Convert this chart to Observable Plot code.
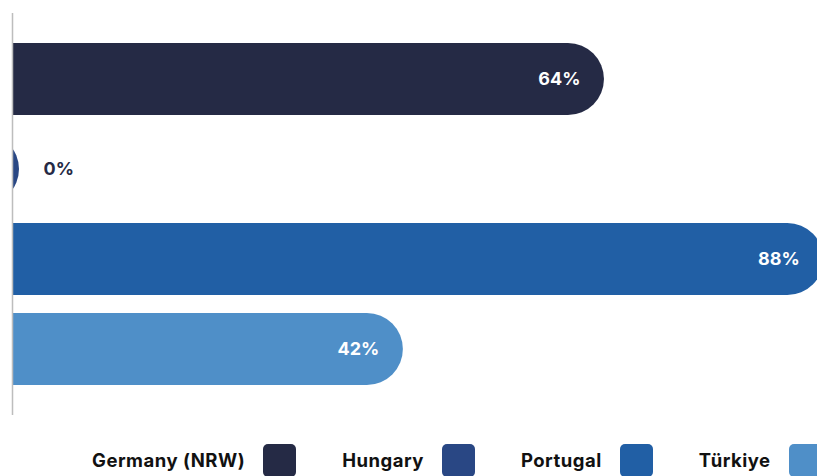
<!DOCTYPE html>
<html>
<head>
<meta charset="utf-8">
<script src="https://cdn.jsdelivr.net/npm/d3@7"></script>
<script src="https://cdn.jsdelivr.net/npm/@observablehq/plot@0.6"></script>
<style>
  html, body { margin: 0; padding: 0; background: #fff; overflow: hidden; }
  body { width: 817px; height: 476px; font-family: Inter, "Noto Sans", sans-serif; }
  #legend { display: flex; align-items: flex-start; white-space: nowrap; padding-left: 92px; margin-top: 19px; height: 40px; overflow: hidden; width: 725px; }
  .item { display: flex; align-items: flex-start; margin-right: 46px; flex: none; }
  .lab { font-weight: 700; font-size: 18.5px; letter-spacing: 0.5px; color: #111; line-height: 33px; }
  .sw { width: 33px; height: 33px; border-radius: 5px; margin-left: 18px; flex: none; }
</style>
</head>
<body>
<div id="chart"></div>
<div id="legend"></div>
<script>
const countries = ["Germany (NRW)", "Hungary", "Portugal", "Türkiye"];
const values = [64, 0, 88, 42];
const colors = ["#252a45", "#294784", "#215fa5", "#4f8fc8"];

const data = countries.map((c, i) => ({country: c, value: values[i]}));

const chart = Plot.plot({
  width: 817,
  height: 425,
  marginLeft: 12,
  marginRight: 0,
  marginTop: 13,
  marginBottom: 10,
  x: {domain: [0, 100], range: [19, 933], axis: null},
  y: {domain: countries, paddingInner: 0.2, paddingOuter: 0.333, axis: null},
  color: {domain: countries, range: colors},
  style: {fontFamily: "Inter, 'Noto Sans', sans-serif", background: "#fff"},
  marks: [
    Plot.barX(data, {x1: 0, x2: "value", y: "country", fill: "country", rx: 36, insetLeft: -90, clip: true}),
    Plot.ruleX([0], {dx: -7, stroke: "#bdbdbd", strokeWidth: 1.5}),
    Plot.text(data, {filter: d => d.value > 5, x: "value", y: "country", text: d => d.value + "%", textAnchor: "end", dx: -24, fill: "#fff", fontSize: 18, fontWeight: 700}),
    Plot.text(data, {filter: d => d.value <= 5, x: "value", y: "country", text: d => d.value + "%", textAnchor: "start", dx: 24, fill: "#252a45", fontSize: 18, fontWeight: 700})
  ]
});
document.getElementById("chart").appendChild(chart);

const legend = document.getElementById("legend");
countries.forEach((c, i) => {
  const item = document.createElement("div");
  item.className = "item";
  const lab = document.createElement("span");
  lab.className = "lab";
  lab.textContent = c;
  const sw = document.createElement("span");
  sw.className = "sw";
  sw.style.background = colors[i];
  item.appendChild(lab);
  item.appendChild(sw);
  legend.appendChild(item);
});
</script>
</body>
</html>
